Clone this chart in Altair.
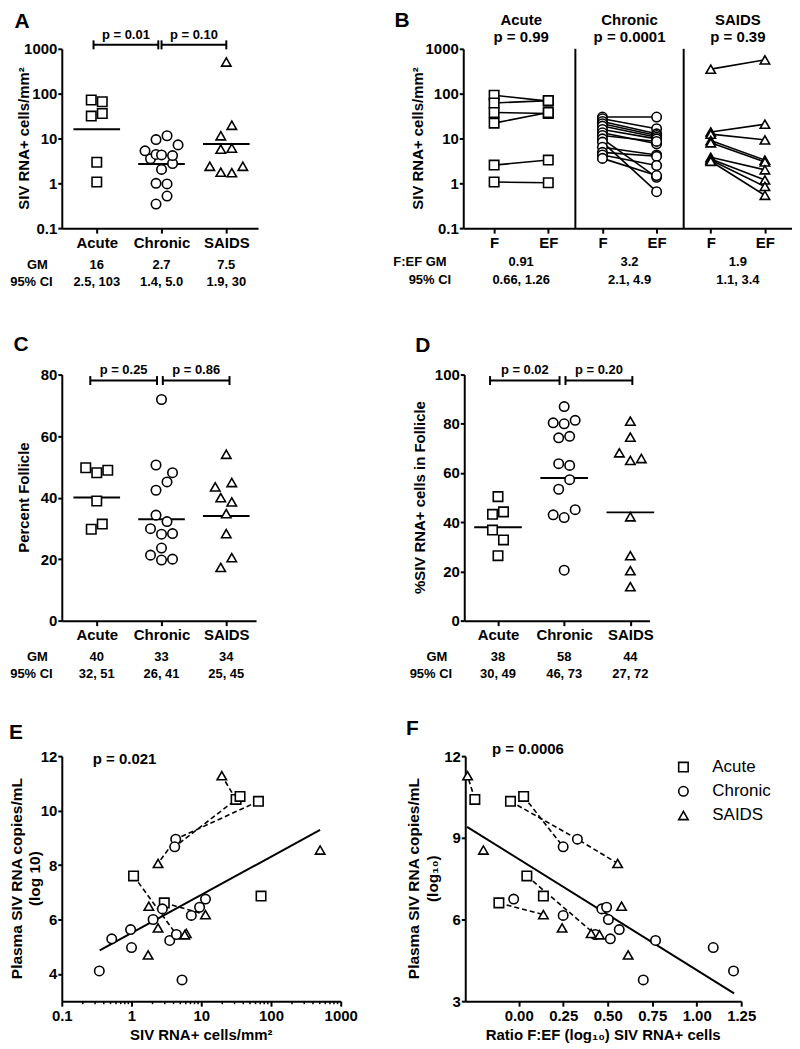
import altair as alt
import pandas as pd

FONT = "Liberation Sans"
GROUPS = ["Acute", "Chronic", "SAIDS"]
SHAPES = ["square", "circle", "triangle-up"]

# ---------------- Panel A (also x of panel E): SIV RNA+ cells/mm2 per animal ----------------
acute_cells = [31.6, 36, 66, 1.07, 2.95, 72]
chronic_cells = [0.345, 0.52, 0.97, 1.0, 2.04, 2.77, 3.53, 4.4, 4.3, 4.16, 5.3, 7.2, 9.46, 11.5]
saids_cells = [19.7, 2.4, 1.77, 2.4, 1.73, 6.1, 5.8, 11.5, 507]
# side-by-side slot of each point inside its column (GraphPad column scatter)
acute_slot_a = [-1, 1, 1, 0, 0, -1]
chronic_slot_a = [-1, 1, 1, -1, 0, 2, -2, -1, 0, 2, -3, 3, -1, 1]
saids_slot_a = [1, -3, -1, 3, 1, 1, -1, -1, 0]
gm_a = [16, 2.7, 7.5]
ci_a = ["2.5, 103", "1.4, 5.0", "1.9, 30"]
p_a = ["p = 0.01", "p = 0.10"]

# ---------------- Panel B: follicle (F) vs extrafollicular (EF) ----------------
acute_f = [92, 62, 38, 22, 2.55, 1.07]
acute_ef = [68, 70, 36, 38, 3.3, 1.03]
chronic_f = [30.1, 27.5, 24.0, 21.3, 18.9, 15.9, 13.4, 11.7, 9.8, 8.3, 6.4, 4.9, 4.3, 3.6]
chronic_ef = [30.1, 16.5, 12.7, 11.7, 10.7, 9.8, 7.6, 8.6, 1.36, 0.65, 4.3, 4.0, 2.5, 1.49]
saids_f = [352, 14, 12.5, 9.0, 8.0, 3.8, 3.5, 3.3, 3.1]
saids_ef = [568, 20.8, 9.3, 3.3, 3.0, 2.0, 1.19, 0.85, 0.54]
p_b = ["p = 0.99", "p = 0.0001", "p = 0.39"]
gm_b = ["0.91", "3.2", "1.9"]
ci_b = ["0.66, 1.26", "2.1, 4.9", "1.1, 3.4"]

# ---------------- Panel C: percent follicle ----------------
acute_pf = [49.7, 48.1, 48.9, 38.9, 29.7, 31.4]
chronic_pf = [71.9, 50.6, 48.1, 45.1, 42.4, 34.3, 32.2, 29.9, 28.1, 28.3, 23.6, 21.3, 19.7, 20.0]
saids_pf = [54.1, 44.9, 43.5, 40.0, 38.6, 34.8, 28.3, 20.5, 17.3]
acute_slot_c = [-2, 0, 2, 0, -1, 1]
chronic_slot_c = [0, -1, 2, 1, -1, -1, 1, -2, 0, 2, 0, -2, 0, 2]
saids_slot_c = [0, 1, -2, -1, 1, 0, 0, 1, -1]
gm_c = [40, 33, 34]
ci_c = ["32, 51", "26, 41", "25, 45"]
p_c = ["p = 0.25", "p = 0.86"]

# ---------------- Panel D: % SIV RNA+ cells in follicle ----------------
acute_pd = [50.4, 43.2, 44.2, 36.8, 32.8, 26.4]
chronic_pd = [87.0, 80.4, 80.0, 81.4, 74.3, 74.9, 63.8, 63.1, 57.3, 53.4, 43.0, 41.9, 45.1, 20.5]
saids_pd = [81.1, 74.6, 68.2, 65.1, 65.9, 42.2, 26.4, 20.3, 13.8]
acute_slot_d = [0, -1, 1, -1, 1, 0]
chronic_slot_d = [0, -2, 0, 2, -1, 1, -1, 1, 1, -1, -2, 0, 2, 0]
saids_slot_d = [0, 0, -2, 0, 2, 0, 0, 0, 0]
gm_d = [38, 58, 44]
ci_d = ["30, 49", "46, 73", "27, 72"]
p_d = ["p = 0.02", "p = 0.20"]

# ---------------- Panels E/F: plasma viral load and F:EF ratio per animal ----------------
acute_plasma = [10.41, 10.52, 10.34, 7.60, 6.61, 6.86]
chronic_plasma = [4.11, 5.29, 5.63, 4.97, 6.0, 6.39, 5.23, 5.45, 8.95, 8.67, 3.78, 6.15, 6.45, 6.75]
saids_plasma = [11.28, 8.06, 6.49, 5.69, 4.70, 5.49, 5.44, 6.18, 8.55]
acute_ratio = [-0.246, 0.028, -0.046, 0.046, -0.111, 0.139]
chronic_ratio = [1.207, 0.515, 0.565, 1.093, 0.504, 0.467, 0.769, 0.43, 0.33, 0.25, 0.70, 0.25, 0.494, -0.028]
saids_ratio = [-0.287, 0.556, 0.578, 0.244, 0.615, 0.407, 0.454, 0.139, -0.198]
# same animal followed through stages (dashed connectors): (group, index)
link_1 = [("Acute", 0), ("SAIDS", 0)]
link_2 = [("Acute", 1), ("Chronic", 9)]
link_3 = [("Acute", 2), ("Chronic", 8), ("SAIDS", 1)]
link_4 = [("Acute", 3), ("Chronic", 7), ("SAIDS", 6)]
link_5 = [("Acute", 4), ("SAIDS", 7)]
# fitted regression lines
fit_e_cells = [0.35, 506]
fit_e_plasma = [4.87, 9.29]
fit_f_ratio = [-0.29, 1.21]
fit_f_plasma = [9.40, 3.29]
p_e = "p = 0.021"
p_f = "p = 0.0006"

POINT = dict(filled=True, fill="white", stroke="black", strokeWidth=1.6, size=90, opacity=1)


def axis(**kw):
    d = dict(domainColor="black", domainWidth=2, tickColor="black", tickWidth=2, tickSize=5,
             labelFont=FONT, labelFontSize=15, labelFontWeight="bold", labelColor="black",
             grid=False, title=None, labelPadding=2, labelFlush=False, labelOverlap=False)
    d.update(kw)
    return alt.Axis(**d)


def shape_enc():
    return alt.Shape("group:N", scale=alt.Scale(domain=GROUPS, range=SHAPES), legend=None)


def label(text, x, y, size=13, weight="bold", angle=None, align="center"):
    props = dict(font=FONT, fontSize=size, fontWeight=weight, color="black", align=align,
                 baseline="middle")
    if angle is not None:
        props["angle"] = angle
    return alt.Chart(pd.DataFrame({"t": [text]})).mark_text(**props).encode(
        x=alt.value(x), y=alt.value(y), text="t:N")


def cat_panel(letter, lists, slots, slot_w, gm, ci, pvals, brackets, ylog, ydomain, yticks,
              ytitle, width, height, xdomain, letter_xy, ytitle_x, bracket_y, p_y, hdr_x):
    rows = []
    for gi, (g, vals, sl) in enumerate(zip(GROUPS, lists, slots)):
        for v, s in zip(vals, sl):
            rows.append({"group": g, "idx": gi + 1, "value": v, "slot": s})
    pts = pd.DataFrame(rows)
    xs = alt.Scale(domain=xdomain, nice=False, zero=False)
    if ylog:
        ys = alt.Scale(type="log", domain=ydomain, nice=False)
        yfmt = "~g"
    else:
        ys = alt.Scale(domain=ydomain, nice=False, zero=False)
        yfmt = "d"
    lab = "[" + ",".join(["''"] + [f"'{g}'" for g in GROUPS]) + "][datum.value]"
    points = alt.Chart(pts).transform_calculate(
        xp=f"datum.idx + datum.slot * {slot_w}"
    ).mark_point(**POINT).encode(
        x=alt.X("xp:Q", scale=xs, axis=axis(values=[1, 2, 3], labelExpr=lab)),
        y=alt.Y("value:Q", scale=ys, axis=axis(values=yticks, format=yfmt, labelPadding=1,
                                                tickSize=4)),
        shape=shape_enc(),
    )
    gmdf = pd.DataFrame({"idx": [1, 2, 3], "gm": gm, "gmtxt": [f"{v:g}" for v in gm], "ci": ci})
    gm_rule = alt.Chart(gmdf).transform_calculate(
        x1="datum.idx - 0.36", x2="datum.idx + 0.36"
    ).mark_rule(color="black", strokeWidth=2).encode(x="x1:Q", x2="x2:Q", y="gm:Q")
    brdf = pd.DataFrame({"b0": [b[0] for b in brackets], "b1": [b[1] for b in brackets], "p": pvals})
    ends = pd.DataFrame({"b": [v for b in brackets for v in b]})
    h_rule = alt.Chart(brdf).mark_rule(color="black", strokeWidth=2).encode(
        x="b0:Q", x2="b1:Q", y=alt.value(bracket_y))
    v_rule = alt.Chart(ends).mark_rule(color="black", strokeWidth=2).encode(
        x="b:Q", y=alt.value(bracket_y - 4.5), y2=alt.value(bracket_y + 4.5))
    ptxt = alt.Chart(brdf).transform_calculate(mid="(datum.b0 + datum.b1) / 2").mark_text(
        font=FONT, fontSize=13, fontWeight="bold", color="black", baseline="middle"
    ).encode(x="mid:Q", y=alt.value(p_y), text="p:N")
    gmt = alt.Chart(gmdf).mark_text(font=FONT, fontSize=13, fontWeight="bold", color="black",
                                    baseline="middle").encode(
        x="idx:Q", y=alt.value(height + 37), text="gmtxt:N")
    cit = alt.Chart(gmdf).mark_text(font=FONT, fontSize=13, fontWeight="bold", color="black",
                                    baseline="middle").encode(
        x="idx:Q", y=alt.value(height + 54), text="ci:N")
    return alt.layer(
        gm_rule, h_rule, v_rule, points, ptxt, gmt, cit,
        label("GM", hdr_x + 6, height + 37),
        label("95% CI", hdr_x, height + 54),
        label(letter, letter_xy[0], letter_xy[1], size=21),
        label(ytitle, ytitle_x, height / 2, size=15, angle=270),
    ).properties(width=width, height=height)


# ---------------- Panel A ----------------
panel_a = cat_panel("A", [acute_cells, chronic_cells, saids_cells],
                    [acute_slot_a, chronic_slot_a, saids_slot_a], 0.085, gm_a, ci_a, p_a,
                    [(0.95, 1.95), (2.0, 3.0)], True, [0.1, 1000], [0.1, 1, 10, 100, 1000],
                    "SIV RNA+ cells/mm²", 197, 180, [0.46, 3.49], (-40, -27), -38, -4, -14, -30.5)

# ---------------- Panel B ----------------
B_W, B_H = 330, 180
brows = []
for gi, (g, fl, efl) in enumerate(zip(GROUPS, [acute_f, chronic_f, saids_f],
                                       [acute_ef, chronic_ef, saids_ef])):
    for k, (a, b) in enumerate(zip(fl, efl)):
        brows.append({"group": g, "animal": f"{g}{k}", "pos": 2 * gi + 1, "value": a})
        brows.append({"group": g, "animal": f"{g}{k}", "pos": 2 * gi + 2, "value": b})
bdf = pd.DataFrame(brows)
b_xs = alt.Scale(domain=[0.43, 6.5], nice=False, zero=False)
b_ys = alt.Scale(type="log", domain=[0.1, 1000], nice=False)
b_lines = alt.Chart(bdf).mark_line(color="black", strokeWidth=1.6).encode(
    x=alt.X("pos:Q", scale=b_xs,
            axis=axis(values=[1, 2, 3, 4, 5, 6], labelExpr="datum.value % 2 == 1 ? 'F' : 'EF'")),
    y=alt.Y("value:Q", scale=b_ys, axis=axis(values=[0.1, 1, 10, 100, 1000], format="~g",
                                              labelPadding=1, tickSize=4)),
    detail="animal:N",
)
b_pts = alt.Chart(bdf).mark_point(**POINT).encode(x="pos:Q", y="value:Q", shape=shape_enc())
b_sep = alt.Chart(pd.DataFrame({"sep": [2.5, 4.5]})).mark_rule(color="black", strokeWidth=2).encode(
    x="sep:Q")
bhead = pd.DataFrame({"mid": [1.5, 3.5, 5.5], "group": GROUPS, "p": p_b, "gm": gm_b, "ci": ci_b})
TXT = dict(font=FONT, fontWeight="bold", color="black", baseline="middle")
b_t1 = alt.Chart(bhead).mark_text(fontSize=15, **TXT).encode(x="mid:Q", y=alt.value(-29), text="group:N")
b_t2 = alt.Chart(bhead).mark_text(fontSize=15, **TXT).encode(x="mid:Q", y=alt.value(-11.5), text="p:N")
b_t3 = alt.Chart(bhead).mark_text(fontSize=13, **TXT).encode(x="mid:Q", y=alt.value(B_H + 34), text="gm:N")
b_t4 = alt.Chart(bhead).mark_text(fontSize=13, **TXT).encode(x="mid:Q", y=alt.value(B_H + 52), text="ci:N")
panel_b = alt.layer(
    b_sep, b_lines, b_pts, b_t1, b_t2, b_t3, b_t4,
    label("F:EF GM", -43.5, B_H + 34),
    label("95% CI", -33.5, B_H + 52),
    label("B", -61.5, -28, size=21),
    label("SIV RNA+ cells/mm²", -45, B_H / 2, size=15, angle=270),
).properties(width=B_W, height=B_H)

# ---------------- Panel C ----------------
panel_c = cat_panel("C", [acute_pf, chronic_pf, saids_pf],
                    [acute_slot_c, chronic_slot_c, saids_slot_c], 0.085, gm_c, ci_c, p_c,
                    [(0.9, 1.93), (2.02, 3.05)], False, [0, 80], [0, 20, 40, 60, 80],
                    "Percent Follicle", 195, 247, [0.46, 3.46], (-41, -29.5), -38, 6, -5, -30.5)

# ---------------- Panel D ----------------
panel_d = cat_panel("D", [acute_pd, chronic_pd, saids_pd],
                    [acute_slot_d, chronic_slot_d, saids_slot_d], 0.083, gm_d, ci_d, p_d,
                    [(0.88, 1.93), (2.02, 3.03)], False, [0, 100], [0, 20, 40, 60, 80, 100],
                    "%SIV RNA+ cells in Follicle", 186, 247, [0.49, 3.29], (-41.5, -28.5), -44, 6, -5,
                    -33.5)

# ---------------- Panels E and F ----------------
erows = []
for g, cl, pl, rl in zip(GROUPS, [acute_cells, chronic_cells, saids_cells],
                         [acute_plasma, chronic_plasma, saids_plasma],
                         [acute_ratio, chronic_ratio, saids_ratio]):
    for k, (c, p, r) in enumerate(zip(cl, pl, rl)):
        erows.append({"group": g, "k": k, "cells": c, "plasma": p, "ratio": r})
edf = pd.DataFrame(erows)
lrows = []
for li, chain in enumerate([link_1, link_2, link_3, link_4, link_5]):
    for order, (g, k) in enumerate(chain):
        r = edf[(edf.group == g) & (edf.k == k)].iloc[0]
        lrows.append({"link": li, "order": order, "cells": r.cells, "plasma": r.plasma,
                      "ratio": r.ratio})
ldf = pd.DataFrame(lrows)

EF_W_E, EF_W_F, EF_H = 280, 277, 246
ys_ef = alt.Scale(domain=[3, 12], nice=False, zero=False)

# Panel E
xs_e = alt.Scale(type="log", domain=[0.1, 1000], nice=False)
e_fit = alt.Chart(pd.DataFrame({"cells": fit_e_cells, "plasma": fit_e_plasma})).mark_line(
    color="black", strokeWidth=2).encode(
    x=alt.X("cells:Q", scale=xs_e, axis=axis(values=[0.1, 1, 10, 100, 1000], format="~g")),
    y=alt.Y("plasma:Q", scale=ys_ef, axis=axis(values=[4, 6, 8, 10, 12], labelPadding=1, tickSize=4)),
)
e_links = alt.Chart(ldf).mark_line(color="black", strokeWidth=1.6, strokeDash=[5, 3]).encode(
    x="cells:Q", y="plasma:Q", detail="link:N", order="order:Q")
e_pts = alt.Chart(edf).mark_point(**POINT).encode(x="cells:Q", y="plasma:Q", shape=shape_enc())
minor = pd.DataFrame({"v": [m * 10 ** e for e in range(-1, 3) for m in range(2, 10)]})
e_minor = alt.Chart(minor).mark_rule(color="black", strokeWidth=1.5).encode(
    x="v:Q", y=alt.value(EF_H), y2=alt.value(EF_H + 3))
panel_e = alt.layer(
    e_minor, e_fit, e_links, e_pts,
    label(p_e, 63, 3, size=15),
    label("E", -46, -23, size=21),
    label("Plasma SIV RNA copies/mL", -45, EF_H / 2, size=15.5, angle=270),
    label("(log 10)", -27, EF_H / 2, size=15.5, angle=270),
    label("SIV RNA+ cells/mm²", EF_W_E / 2, 280, size=15),
).properties(width=EF_W_E, height=EF_H)

# Panel F
xs_f = alt.Scale(domain=[-0.3, 1.25], nice=False, zero=False)
f_fit = alt.Chart(pd.DataFrame({"ratio": fit_f_ratio, "plasma": fit_f_plasma})).mark_line(
    color="black", strokeWidth=2).encode(
    x=alt.X("ratio:Q", scale=xs_f, axis=axis(values=[0, 0.25, 0.5, 0.75, 1.0, 1.25], format=".2f")),
    y=alt.Y("plasma:Q", scale=ys_ef, axis=axis(values=[3, 6, 9, 12], labelPadding=1, tickSize=4)),
)
f_links = alt.Chart(ldf).mark_line(color="black", strokeWidth=1.6, strokeDash=[5, 3]).encode(
    x="ratio:Q", y="plasma:Q", detail="link:N", order="order:Q")
f_pts = alt.Chart(edf).mark_point(**POINT).encode(x="ratio:Q", y="plasma:Q", shape=shape_enc())
legend_layers = []
for i, g in enumerate(GROUPS):
    legend_layers.append(
        alt.Chart(pd.DataFrame({"group": [g]})).mark_point(**POINT).encode(
            x=alt.value(219), y=alt.value(11 + 24.3 * i), shape=shape_enc()))
    legend_layers.append(label(g, 248, 11 + 24.3 * i, size=17, weight="normal", align="left"))
panel_f = alt.layer(
    f_fit, f_links, f_pts, *legend_layers,
    label(p_f, 63, -7, size=15),
    label("F", -53, -27.5, size=21),
    label("Plasma SIV RNA copies/mL", -51, EF_H / 2, size=15.5, angle=270),
    label("(log₁₀)", -32, EF_H / 2, size=15.5, angle=270),
    label("Ratio F:EF (log₁₀) SIV RNA+ cells", EF_W_F / 2, 280, size=15),
).properties(width=EF_W_F, height=EF_H)

row1 = alt.hconcat(panel_a, panel_b, spacing=135)
row2 = alt.hconcat(panel_c, panel_d, spacing=154)
row3 = alt.hconcat(panel_e, panel_f, spacing=48)

chart = alt.vconcat(
    alt.vconcat(row1, row2, spacing=45), row3, spacing=36
).properties(padding=0, background="white").configure_view(stroke=None)

chart.save("out.html", embed_options={"renderer": "svg", "actions": False})
